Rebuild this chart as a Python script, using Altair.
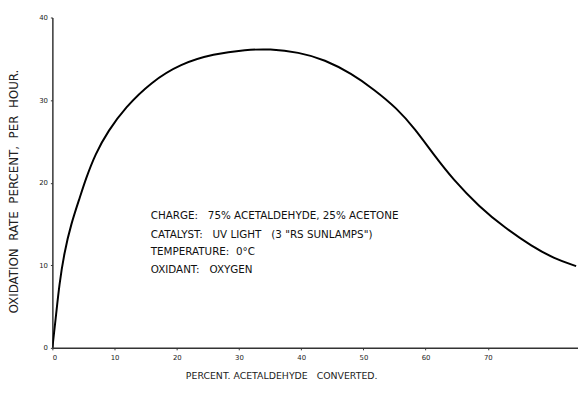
import altair as alt
import pandas as pd

# Curve
conv_pct = [0, 0.6, 1.1, 1.9, 3.0, 4.5, 5.3, 6.9, 9.0, 11.7, 15.9, 20.6, 25.9, 31.2,
            34.9, 39.6, 43.8, 48.1, 51.7, 55.4, 58.3, 61.2, 64.4, 68.6, 72.8, 77.1, 80.7, 84.2]
ox_rate = [0, 4.0, 7.6, 11.5, 15.0, 18.4, 20.3, 23.5, 26.3, 29.1, 32.2, 34.4, 35.6, 36.1,
           36.2, 35.8, 34.9, 33.2, 31.3, 29.0, 26.5, 23.5, 20.4, 17.1, 14.5, 12.3, 10.8, 9.9]

x_ticks = [0, 10, 20, 30, 40, 50, 60, 70]
y_ticks = [0, 10, 20, 30, 40]

NB = "\u00a0"
note_lines = [
    "CHARGE:" + NB * 3 + "75% ACETALDEHYDE, 25% ACETONE",
    "CATALYST:" + NB * 3 + "UV LIGHT" + NB * 3 + "(3 \"RS SUNLAMPS\")",
    "TEMPERATURE:" + NB * 2 + "0\u00b0C",
    "OXIDANT:" + NB * 3 + "OXYGEN",
]
note_x = [15.8, 15.8, 15.8, 15.8]
note_y = [16.0, 13.7, 11.6, 9.4]

x_title = "PERCENT." + NB + "ACETALDEHYDE" + NB * 3 + "CONVERTED."
y_title = NB.join(["OXIDATION", "", "RATE", "", "PERCENT,", "", "PER", "", "HOUR."])

curve = pd.DataFrame({"x": conv_pct, "y": ox_rate})
notes = pd.DataFrame({"x": note_x, "y": note_y, "t": note_lines})

FONT = "DejaVu Sans"

xscale = alt.Scale(domain=[0, 84.5], nice=False, zero=False)
yscale = alt.Scale(domain=[0, 40], nice=False)

line = alt.Chart(curve).mark_line(
    color="black", strokeWidth=2, interpolate="basis", clip=True
).encode(
    x=alt.X("x:Q", scale=xscale,
            axis=alt.Axis(values=x_ticks, title=x_title,
                          grid=False, tickSize=2, tickColor="#333", domainColor="#333",
                          domainWidth=1.5, labelFont=FONT, labelFontSize=7, labelColor="#222",
                          labelPadding=4, titleFont=FONT, titleFontSize=9.5,
                          titleFontWeight="normal", titleColor="#222",
                          titleX=232, titleY=31, titleBaseline="alphabetic")),
    y=alt.Y("y:Q", scale=yscale,
            axis=alt.Axis(values=y_ticks, title=y_title,
                          grid=False, tickSize=2, tickColor="#333", domainColor="#333",
                          domainWidth=1.5, labelFont=FONT, labelFontSize=7, labelColor="#222",
                          labelPadding=3, titleFont=FONT, titleFontSize=12,
                          titleFontWeight="normal", titleColor="#222",
                          titleX=-39, titleY=176, titleBaseline="middle", titleAngle=270)),
)

text = alt.Chart(notes).mark_text(
    align="left", baseline="middle", font=FONT, fontSize=10.5, color="#111"
).encode(
    x=alt.X("x:Q", scale=xscale),
    y=alt.Y("y:Q", scale=yscale),
    text="t:N",
)

chart = alt.layer(line, text).properties(
    width=533,
    height=335,
    autosize=alt.AutoSizeParams(type="none"),
    padding={"left": 45, "top": 7, "right": 0, "bottom": 34},
    background="white",
).configure_view(stroke=None)

chart.save("out.html", embed_options={"renderer": "svg", "actions": False})
